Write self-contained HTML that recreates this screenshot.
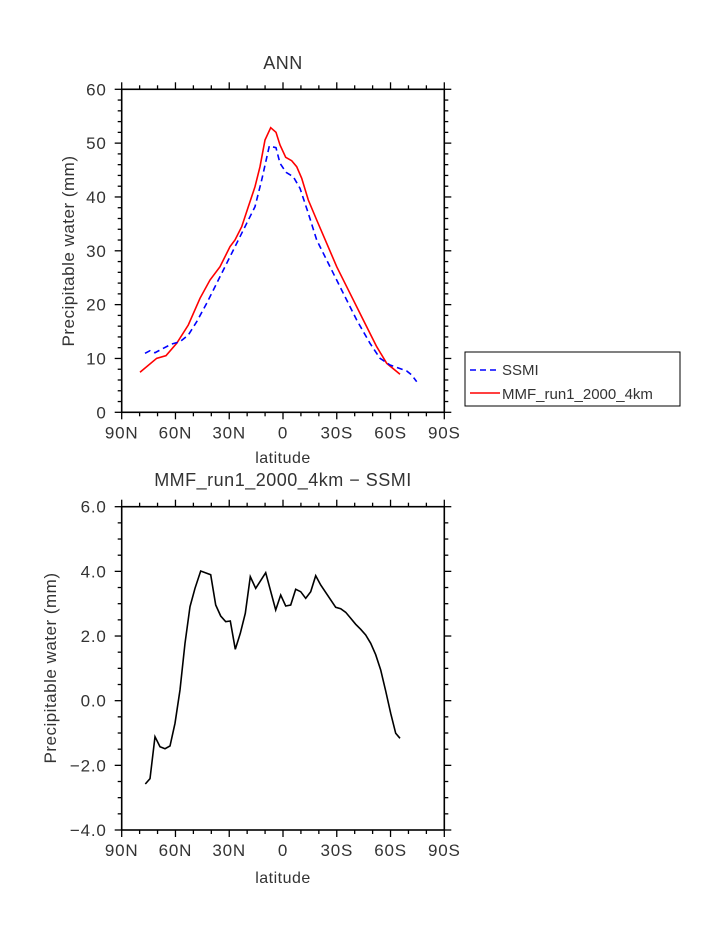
<!DOCTYPE html>
<html><head><meta charset="utf-8"><style>
html,body{margin:0;padding:0;background:#fff;}
svg text{font-family:"Liberation Sans",sans-serif;fill:#333;}
</style></head><body>
<svg id="s" width="723" height="935" xmlns="http://www.w3.org/2000/svg">
<rect width="723" height="935" fill="#fff"/>
<text x="283" y="69" font-size="18" text-anchor="middle" letter-spacing="0.5">ANN</text>
<text x="283" y="486" font-size="18" text-anchor="middle" letter-spacing="0.5">MMF_run1_2000_4km − SSMI</text>
<text x="283" y="463" font-size="16" text-anchor="middle" letter-spacing="0.5">latitude</text>
<text x="283" y="883" font-size="16" text-anchor="middle" letter-spacing="0.5">latitude</text>
<text transform="translate(74,251) rotate(-90)" font-size="17" text-anchor="middle" letter-spacing="0.5">Precipitable water (mm)</text>
<text transform="translate(56,668) rotate(-90)" font-size="17" text-anchor="middle" letter-spacing="0.5">Precipitable water (mm)</text>
<g id="ax"></g>
<polyline fill="none" stroke="#f00" stroke-width="1.6" points="140,372.3 156.7,358.3 166,355.7 176.7,343.3 188.3,325 200,298.3 210,280 220,266.7 230,246.7 235,240 241.7,226.7 248.3,206.7 255,186.7 260,166.7 265,140 270.7,127.7 276,132.3 280,145 285.7,157.3 291.7,160.7 296.7,166.7 301.7,178.3 308.3,200 316.7,220 326.7,243.3 336.7,266.7 350,293.3 363.3,320 376.7,346.7 386.7,363.3 400,374.3"/>
<polyline fill="none" stroke="#00f" stroke-width="1.6" stroke-dasharray="6,4" points="145,353.3 150,350.7 155,352.7 163.3,348.3 171.7,344 180,341.7 188.3,335 196.7,321.7 206.7,303.3 216.7,283.3 226.7,263.3 236.7,243.3 246.7,223.3 255,206.7 261.7,180 269.3,146 276,147.7 280,163.3 286,172.3 293.3,176.7 300,188.3 308.3,213.3 316.7,240 330,266.7 343.3,293.3 356.7,320 370,343.3 380,358.3 390,365 406.7,371 411.7,375 416.7,381.7"/>
<polyline fill="none" stroke="#000" stroke-width="1.6" points="145.3,784 150,778.7 155,736.7 160,746.7 165,748.7 170,746 175,723.3 180,690 185,643.3 190,606.7 195,588.3 200.7,571 210.7,574.7 215.7,605 220.7,616 225.7,621.7 230.3,621 235.3,649.3 240.3,633.3 245.3,613.3 250.3,576.7 255.7,588.3 265.7,572.7 275.7,610 280.7,595 285.7,606 290.7,605 295.7,589.3 300.7,591.7 305.7,598.3 310.7,591.7 315.7,575.7 320.7,585 335.7,607.3 340.7,608.7 345.7,612.3 350.7,618.3 355.7,624.3 360.7,629.3 365.7,635 370.7,643.3 375.7,654.7 380.7,670 385.7,691 390.7,713.3 395.7,733.3 400,738.3"/>
<rect x="465" y="352" width="215" height="54" fill="none" stroke="#000" stroke-width="1"/>
<line x1="470" y1="370" x2="500" y2="370" stroke="#00f" stroke-width="1.6" stroke-dasharray="6,4"/>
<text x="502" y="375" font-size="15">SSMI</text>
<line x1="470" y1="393" x2="500" y2="393" stroke="#f00" stroke-width="1.6"/>
<text x="502" y="399" font-size="15">MMF_run1_2000_4km</text>
</svg>
<script>
var g=document.getElementById('ax'),NS="http://www.w3.org/2000/svg";
function L(x1,y1,x2,y2,w){var l=document.createElementNS(NS,'line');l.setAttribute('x1',x1);l.setAttribute('y1',y1);l.setAttribute('x2',x2);l.setAttribute('y2',y2);l.setAttribute('stroke','#000');l.setAttribute('stroke-width',w||1.3);g.appendChild(l);}
function T(x,y,s,a){var t=document.createElementNS(NS,'text');t.setAttribute('x',x);t.setAttribute('y',y);t.setAttribute('font-size','17');t.setAttribute('letter-spacing','0.8');t.setAttribute('text-anchor',a);t.textContent=s;g.appendChild(t);}
function frame(L0,R,Tp,B,ylabs,nmin){
 var r=document.createElementNS(NS,'rect');r.setAttribute('x',L0);r.setAttribute('y',Tp);r.setAttribute('width',R-L0);r.setAttribute('height',B-Tp);r.setAttribute('fill','none');r.setAttribute('stroke','#000');r.setAttribute('stroke-width','1.6');g.appendChild(r);
 var xl=['90N','60N','30N','0','30S','60S','90S'];
 for(var i=0;i<=18;i++){var x=L0+(R-L0)*i/18,maj=i%3==0,len=maj?7:4;L(x,B,x,B+len);L(x,Tp,x,Tp-len);if(maj)T(x,B+26,xl[i/3],'middle');}
 var n=(ylabs.length-1)*nmin;
 for(var j=0;j<=n;j++){var y=B-(B-Tp)*j/n,maj=j%nmin==0,len=maj?7:4;L(L0,y,L0-len,y);L(R,y,R+len,y);if(maj)T(L0-15,y+6,ylabs[j/nmin],'end');}
}
frame(121.7,444.3,89.3,412.3,['0','10','20','30','40','50','60'],5);
frame(121.7,444.3,506.7,830,['−4.0','−2.0','0.0','2.0','4.0','6.0'],4);
</script>
</body></html>
